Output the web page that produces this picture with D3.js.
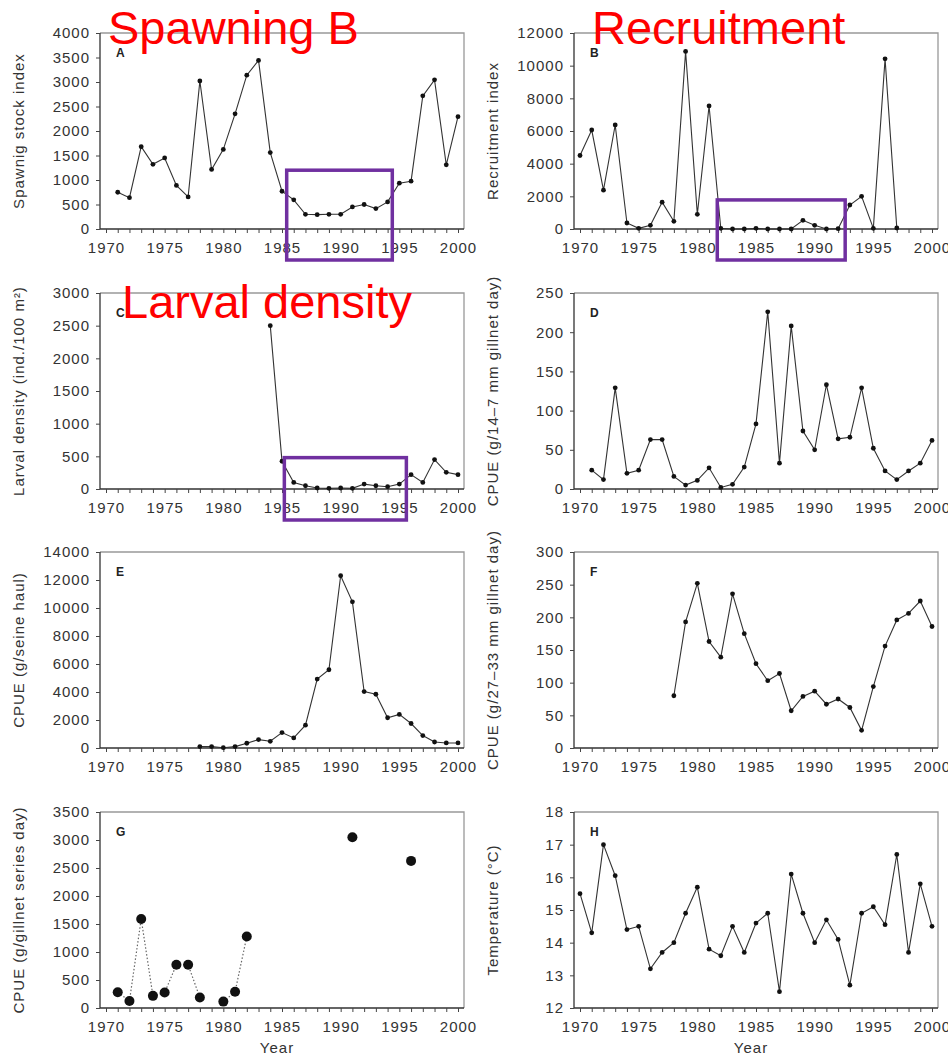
<!DOCTYPE html>
<html>
<head>
<meta charset="utf-8">
<script src="https://cdn.jsdelivr.net/npm/d3@7"></script>
<style>
  body { margin: 0; background: #fff; }
  svg text { font-family: "Liberation Sans", Arial, sans-serif; }
</style>
</head>
<body>
<svg id="fig" width="948" height="1057"></svg>
<script>
// years on the x axis
var years = d3.range(1970, 2001);
var yearTicks = [1970, 1975, 1980, 1985, 1990, 1995, 2000];

// series, one value per year 1970..2000 (null = no data)
var spawningStock = [null, 750, 640, 1680, 1320, 1450, 890, 655, 3020, 1215, 1625, 2350, 3140, 3440, 1560,
                     770, 595, 300, 293, 300, 300, 450, 500, 416, 553, 935, 976, 2717, 3044, 1310, 2293];
var recruitment = [4500, 6060, 2375, 6366, 368, 40, 225, 1640, 470, 10870, 900, 7533, 40, 0, 0,
                   40, 0, 0, 0, 530, 225, 0, 20, 1470, 2000, 40, 10420, 60, null, null, null];
var larvalDensity = [null, null, null, null, null, null, null, null, null, null, null, null, null, null,
                     2500, 425, 100, 50, 15, 10, 15, 10, 75, 50, 35, 75, 220, 100, 450, 255, 220];
var cpue14 = [null, 24, 12, 129, 20, 24, 63, 63, 16, 5, 11, 27, 2, 6, 28,
              83, 226, 33, 208, 74, 50, 133, 64, 66, 129, 52, 23, 12, 23, 33, 62];
var cpueSeine = [null, null, null, null, null, null, null, null, 100, 100, 20, 100, 340, 600, 480,
                 1100, 720, 1630, 4920, 5590, 12310, 10440, 4030, 3840, 2160, 2400, 1750, 890, 430, 360, 360];
var cpue27 = [null, null, null, null, null, null, null, null, 80, 193, 252, 163, 139, 236, 175,
              129, 103, 114, 57, 79, 87, 67, 75, 62, 27, 94, 156, 196, 206, 225, 186];
var cpueSeries = [null, 280, 126, 1590, 217, 277, 771, 771, 187, null, 114, 289, 1277, null, null,
                  null, null, null, null, null, null, 3048, null, null, null, null, 2627, null, null, null, null];
var temperature = [15.5, 14.3, 17.0, 16.05, 14.4, 14.5, 13.2, 13.7, 14.0, 14.9, 15.7, 13.8, 13.6, 14.5, 13.7,
                   14.6, 14.9, 12.5, 16.1, 14.9, 14.0, 14.7, 14.1, 12.7, 14.9, 15.1, 14.55, 16.7, 13.7, 15.8, 14.5];

// y tick labels per panel
var ticksA = d3.range(0, 4001, 500);
var ticksB = d3.range(0, 12001, 2000);
var ticksC = d3.range(0, 3001, 500);
var ticksD = d3.range(0, 251, 50);
var ticksE = d3.range(0, 14001, 2000);
var ticksF = d3.range(0, 301, 50);
var ticksG = d3.range(0, 3501, 500);
var ticksH = d3.range(12, 19, 1);

var labelsY = ["Spawnig stock index", "Recruitment index", "Larval density (ind./100 m\u00b2)",
               "CPUE (g/14\u20137 mm gillnet day)", "CPUE (g/seine haul)", "CPUE (g/27\u201333 mm gillnet day)",
               "CPUE (g/gillnet series day)", "Temperature (\u00b0C)"];
var letters = ["A", "B", "C", "D", "E", "F", "G", "H"];

// overlays
var redTitles = [{panel: 0, text: "Spawning B"}, {panel: 1, text: "Recruitment"}, {panel: 2, text: "Larval density"}];
var highlights = [{panel: 0, from: 1985.4, to: 1994.4, top: 1200},
                  {panel: 1, from: 1981.7, to: 1992.6, top: 1780},
                  {panel: 2, from: 1985.2, to: 1995.6, top: 480}];

var series = [spawningStock, recruitment, larvalDensity, cpue14, cpueSeine, cpue27, cpueSeries, temperature];
var tickSets = [ticksA, ticksB, ticksC, ticksD, ticksE, ticksF, ticksG, ticksH];

// layout
var colLeft = [100, 574], colWidth = 364;
var rowTop = [33, 293, 552, 812], rowHeight = 196;

var svg = d3.select("#fig");
var panels = [];

series.forEach(function(vals, i){
    let col = i % 2, row = Math.floor(i / 2);
    let L = colLeft[col], T = rowTop[row], W = colWidth, H = rowHeight;
    let t = tickSets[i];
    let x = d3.scaleLinear().domain([1970, 2000]).range([L + 6, L + W - 6]);
    let y = d3.scaleLinear().domain([t[0], t[t.length - 1]]).range([T + H, T]);
    panels.push({x: x, y: y, L: L, T: T, W: W, H: H});

    let g = svg.append("g");

    // frame: light top/right, dark left/bottom
    g.append("path")
        .attr("d", "M" + L + "," + T + "H" + (L + W) + "V" + (T + H))
        .attr("fill", "none").attr("stroke", "#999").attr("stroke-width", 1.3);
    g.append("path")
        .attr("d", "M" + L + "," + T + "V" + (T + H) + "H" + (L + W))
        .attr("fill", "none").attr("stroke", "#333").attr("stroke-width", 1.3);

    let xa = g.append("g").attr("transform", "translate(0," + (T + H) + ")")
        .call(d3.axisBottom(x).tickValues(years).tickSize(4).tickPadding(9)
            .tickFormat(function(d){ return yearTicks.indexOf(d) >= 0 ? d : ""; }));
    let ya = g.append("g").attr("transform", "translate(" + L + ",0)")
        .call(d3.axisLeft(y).tickValues(t).tickSize(4).tickPadding(6).tickFormat(d3.format("d")));
    [xa, ya].forEach(function(a){
        a.select(".domain").remove();
        a.selectAll("line").attr("stroke", "#444");
        a.selectAll("text").attr("font-size", 15).attr("fill", "#333")
            .attr("letter-spacing", "1px").attr("font-family", "Liberation Sans, Arial, sans-serif");
    });

    // y label
    g.append("text")
        .attr("transform", "translate(" + (L - 76) + "," + (T + H / 2) + ") rotate(-90)")
        .attr("text-anchor", "middle").attr("font-size", 15).attr("letter-spacing", "1px")
        .attr("fill", "#333").text(labelsY[i]);

    // panel letter
    g.append("text").attr("x", L + 16).attr("y", T + 24)
        .attr("font-size", 12).attr("font-weight", "bold").attr("fill", "#222").text(letters[i]);

    let pts = years.map(function(yr, j){ return {yr: yr, v: vals[j]}; });
    let line = d3.line().defined(function(d){ return d.v != null; })
        .x(function(d){ return x(d.yr); }).y(function(d){ return y(d.v); });

    if (i === 6) {
        g.append("path").datum(pts).attr("d", line).attr("fill", "none")
            .attr("stroke", "#666").attr("stroke-width", 1.2).attr("stroke-dasharray", "1.5,2");
        g.selectAll("circle").data(pts.filter(function(d){ return d.v != null; })).enter()
            .append("circle").attr("cx", function(d){ return x(d.yr); }).attr("cy", function(d){ return y(d.v); })
            .attr("r", 5).attr("fill", "#111");
    } else {
        g.append("path").datum(pts).attr("d", line).attr("fill", "none")
            .attr("stroke", "#333").attr("stroke-width", 1.1);
        g.selectAll("circle").data(pts.filter(function(d){ return d.v != null; })).enter()
            .append("circle").attr("cx", function(d){ return x(d.yr); }).attr("cy", function(d){ return y(d.v); })
            .attr("r", 2.4).attr("fill", "#111");
    }

    if (row === 3) {
        g.append("text").attr("x", L + W / 2 - 5).attr("y", T + H + 45)
            .attr("text-anchor", "middle").attr("font-size", 15).attr("letter-spacing", "1px")
            .attr("fill", "#333").text("Year");
    }
});

// purple highlight boxes
highlights.forEach(function(h){
    let p = panels[h.panel];
    svg.append("rect")
        .attr("x", p.x(h.from)).attr("y", p.y(h.top))
        .attr("width", p.x(h.to) - p.x(h.from))
        .attr("height", p.T + p.H + 31 - p.y(h.top))
        .attr("fill", "none").attr("stroke", "#7030a0").attr("stroke-width", 3.5);
});

// red overlay titles
redTitles.forEach(function(r){
    let p = panels[r.panel];
    svg.append("text").attr("x", p.L + (r.panel === 2 ? 22 : r.panel === 1 ? 18 : 8))
        .attr("y", p.T + (r.panel === 2 ? 25 : 11))
        .attr("font-size", 47).attr("fill", "#ff0000").text(r.text);
});
</script>
</body>
</html>
